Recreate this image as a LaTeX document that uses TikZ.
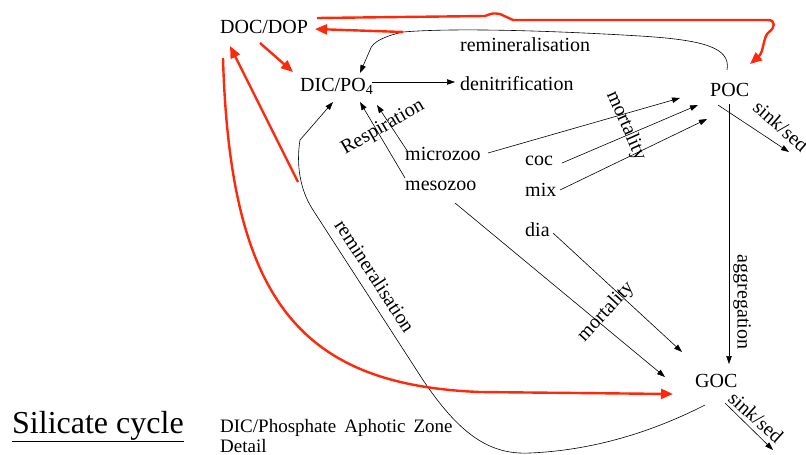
\documentclass[tikz,border=0pt]{standalone}
\usepackage{fontspec}
\setmainfont{Liberation Serif}
\usetikzlibrary{arrows.meta}
\definecolor{flowred}{RGB}{255,40,10}

\begin{document}
\begin{tikzpicture}[x=1pt, y=-1pt,
  lbl/.style={inner sep=0, anchor=base west, font=\fontsize{20}{22}\selectfont},
  tag/.style={inner sep=0, font=\fontsize{20}{22}\selectfont},
  flow/.style={-{Triangle[length=8pt,width=5.5pt]}, line width=0.6pt},
  carbon/.style={-{Triangle[length=12pt,width=10pt]}, flowred, line width=2.4pt, line join=round}]
\useasboundingbox (0,0) rectangle (806,455);
% pools
\node[lbl] (doc) at (220,34) {DOC/DOP};
\node[lbl] (dic) at (300,91) {DIC/PO\textsubscript{4}};
\node[lbl] (denit) at (460,90) {denitrification};
\node[lbl] (poc) at (710,96) {POC};
\node[lbl] (goc) at (695,387) {GOC};
\node[lbl] (micro) at (405,160) {microzoo};
\node[lbl] (meso) at (405,190) {mesozoo};
\node[lbl] (coc) at (525,165) {coc};
\node[lbl] (mix) at (525,196) {mix};
\node[lbl] (dia) at (525,236) {dia};
% flow labels
\node[lbl] (reminup) at (460,51) {remineralisation};
\node[tag, rotate=30] (resp) at (383,128) {Respiration};
\node[tag, rotate=-57] (remindown) at (375,276) {remineralisation};
\node[tag, rotate=-66] (mortup) at (626,126) {mortality};
\node[tag, rotate=47] (mortdown) at (606,312) {mortality};
\node[tag, rotate=-90] (aggr) at (742,302) {aggregation};
\node[tag, rotate=-41] (sinkup) at (781,126) {sink/sed};
\node[tag, rotate=-42] (sinkdown) at (756,417) {sink/sed};
\node[inner sep=0, anchor=base west, font=\fontsize{32}{36}\selectfont] (title) at (12,433) {\underline{Silicate cycle}};
\node[inner sep=0, anchor=north west, align=left, font={\fontsize{19}{20}\selectfont\spaceskip=8pt\relax}] (note) at (220,419) {DIC/Phosphate Aphotic Zone\\Detail};
\coordinate (kink) at (403,32);
\coordinate (redfoot) at (298,182);
\coordinate (pocsink) at (789,152);
\coordinate (gocsink) at (773,450);
% black flows
\draw[flow] ([shift={(72,-9)}]dic.base west) -- ([shift={(-5,-8)}]denit.base west);
\draw[flow] ([shift={(3,-8)}]micro.base west) -- ([shift={(77,14)}]dic.base west);
\draw[flow] ([shift={(0,-12)}]meso.base west) -- ([shift={(60,11)}]dic.base west);
\draw[flow] ([shift={(83,-7)}]micro.base west) -- ([shift={(-30,2)}]poc.base west);
\draw[flow] ([shift={(37,-2)}]coc.base west) -- ([shift={(-12,9)}]poc.base west);
\draw[flow] ([shift={(35,-6)}]mix.base west) -- ([shift={(-3,23)}]poc.base west);
\draw[flow] ([shift={(28,-3)}]dia.base west) -- ([shift={(-13,-35)}]goc.base west);
\draw[flow] ([shift={(50,13)}]meso.base west) -- ([shift={(-30,-10)}]goc.base west);
\draw[flow] ([shift={(19,8)}]poc.base west) -- ([shift={(34,-23)}]goc.base west);
\draw[flow] ([shift={(8,9)}]poc.base west) -- (pocsink);
\draw[flow] ([shift={(30,16)}]goc.base west) -- (gocsink);
\draw[flow] ([shift={(17,-26)}]poc.base west) .. controls (731,48) and (705,40) .. (640,36)
  .. controls (540,30) and (450,28) .. (kink) .. controls (385,36) and (372,42) .. (370,50)
  -- ([shift={(60,-18)}]dic.base west);
\draw[flow] ([shift={(10,18)}]goc.base west) .. controls (660,428) and (600,450) .. (530,453)
  .. controls (490,455) and (460,435) .. (423,380) -- (313,210)
  .. controls (300,190) and (296,165) .. (300,140) -- ([shift={(33,11)}]dic.base west);
% red flows
\draw[carbon] ([shift={(40,9)}]doc.base west) -- ([shift={(-7,-19)}]dic.base west);
\draw[carbon] (kink) -- ([shift={(95,-5)}]doc.base west);
\draw[carbon] ([shift={(97,-16)}]doc.base west) -- (485,16) .. controls (493,13) .. (500,14) -- (513,20) -- (768,20)
  .. controls (776,20) and (775,28) .. (769,32) .. controls (763,36) and (764,52) .. ([shift={(40,-32)}]poc.base west);
\draw[carbon] (redfoot) -- ([shift={(10,12)}]doc.base west);
\draw[carbon] ([shift={(3,24)}]doc.base west) .. controls (230,300) and (300,385) .. (480,392)
  -- ([shift={(-22,7)}]goc.base west);
\end{tikzpicture}
\end{document}
